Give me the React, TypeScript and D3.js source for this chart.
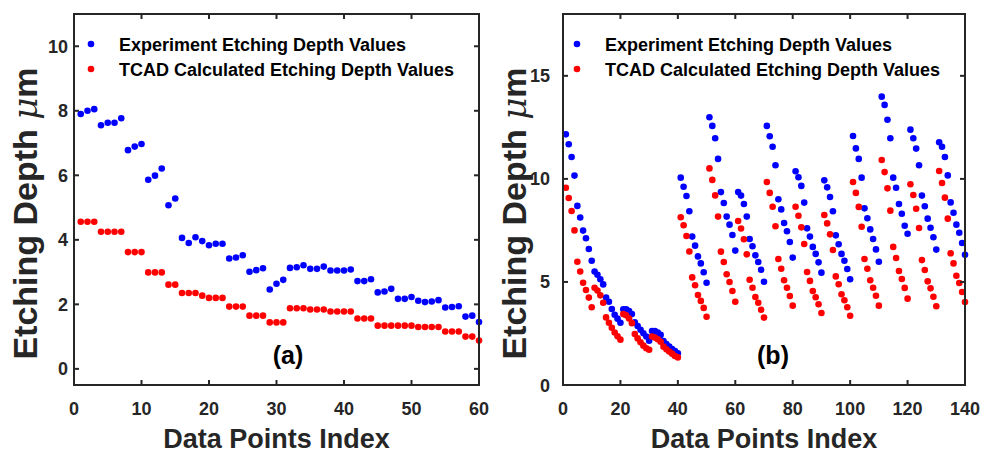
import React from "react";
import * as d3 from "d3";

// ---------- DATA ----------
const indexA = d3.range(1, 61);
const experimentA = [
  7.9, 8.0, 8.05, 7.55, 7.63, 7.63, 7.77, 6.78, 6.89, 6.97,
  5.86, 5.99, 6.21, 5.07, 5.28, 4.06, 3.9, 4.08, 3.96, 3.83,
  3.88, 3.88, 3.42, 3.45, 3.52, 3.01, 3.06, 3.12, 2.46, 2.64,
  2.76, 3.13, 3.15, 3.21, 3.1, 3.1, 3.17, 3.05, 3.05, 3.05,
  3.08, 2.72, 2.72, 2.78, 2.37, 2.4, 2.48, 2.17, 2.17, 2.23,
  2.11, 2.07, 2.09, 2.13, 1.9, 1.92, 1.94, 1.62, 1.65, 1.45,
];
const tcadA = [
  4.56, 4.56, 4.56, 4.25, 4.25, 4.25, 4.25, 3.62, 3.62, 3.62,
  2.99, 2.99, 2.99, 2.61, 2.61, 2.35, 2.35, 2.35, 2.27, 2.2,
  2.2, 2.2, 1.93, 1.93, 1.93, 1.65, 1.65, 1.65, 1.44, 1.44,
  1.44, 1.88, 1.88, 1.88, 1.84, 1.84, 1.84, 1.78, 1.78, 1.78,
  1.78, 1.56, 1.56, 1.56, 1.34, 1.34, 1.34, 1.34, 1.34, 1.34,
  1.3, 1.3, 1.3, 1.3, 1.16, 1.16, 1.16, 1.0, 1.0, 0.88,
];

const indexB = d3.range(1, 141);
const experimentB = [
  12.16, 11.68, 11.06, 10.16, 8.69, 8.13, 7.49, 7.12, 6.6, 6.03,
  5.51, 5.35, 5.13, 4.88, 4.24, 4.04, 3.69, 3.41, 3.22, 3.02,
  3.67, 3.67, 3.59, 3.44, 3.04, 2.86, 2.68, 2.51, 2.35, 2.15,
  2.62, 2.62, 2.54, 2.43, 2.13, 1.99, 1.86, 1.75, 1.65, 1.54,
  10.06, 9.62, 9.17, 8.43, 7.2, 6.76, 6.24, 5.9, 5.47, 4.96,
  12.99, 12.57, 11.97, 10.97, 9.36, 8.83, 8.17, 7.78, 7.28, 6.52,
  9.36, 9.19, 8.78, 8.17, 7.08, 6.73, 6.29, 5.97, 5.59, 5.01,
  12.57, 12.07, 11.56, 10.66, 9.01, 8.52, 7.86, 7.46, 6.94, 6.18,
  10.37, 10.08, 9.66, 8.85, 7.6, 7.2, 6.7, 6.36, 5.95, 5.45,
  9.93, 9.59, 9.12, 8.43, 7.26, 6.83, 6.36, 6.03, 5.63, 5.13,
  12.08, 11.48, 10.97, 10.06, 8.57, 8.09, 7.55, 7.08, 6.58, 5.98,
  13.99, 13.59, 12.87, 11.97, 10.06, 9.57, 8.78, 8.31, 7.73, 7.34,
  12.39, 11.97, 11.47, 10.66, 9.19, 8.67, 8.07, 7.63, 7.17, 6.57,
  11.78, 11.56, 11.06, 10.17, 8.86, 8.36, 7.78, 7.39, 6.89, 6.32,
];
const tcadB = [
  9.57, 9.07, 8.44, 7.5, 5.98, 5.51, 4.96, 4.61, 4.24, 3.77,
  4.72, 4.58, 4.35, 3.99, 3.28, 3.02, 2.78, 2.55, 2.36, 2.2,
  3.44, 3.38, 3.23, 3.0, 2.47, 2.26, 2.07, 1.91, 1.78, 1.71,
  2.35, 2.3, 2.22, 2.1, 1.86, 1.73, 1.62, 1.52, 1.41, 1.34,
  8.14, 7.75, 7.23, 6.48, 5.22, 4.84, 4.37, 4.08, 3.74, 3.31,
  10.51, 9.95, 9.2, 8.17, 6.47, 5.97, 5.37, 5.0, 4.56, 4.04,
  7.96, 7.59, 7.07, 6.34, 5.11, 4.72, 4.27, 3.99, 3.65, 3.27,
  9.85, 9.32, 8.65, 7.7, 6.11, 5.64, 5.08, 4.72, 4.32, 3.85,
  8.65, 8.21, 7.65, 6.84, 5.48, 5.05, 4.56, 4.26, 3.92, 3.49,
  8.25, 7.84, 7.31, 6.55, 5.27, 4.89, 4.4, 4.11, 3.77, 3.36,
  9.85, 9.32, 8.64, 7.68, 6.11, 5.64, 5.08, 4.72, 4.33, 3.85,
  10.92, 10.33, 9.54, 8.46, 6.7, 6.16, 5.53, 5.14, 4.71, 4.19,
  9.74, 9.22, 8.55, 7.62, 6.06, 5.58, 5.03, 4.69, 4.28, 3.82,
  10.38, 9.8, 9.09, 8.07, 6.39, 5.9, 5.3, 4.95, 4.51, 4.03,
];

const xTicksA = [0, 10, 20, 30, 40, 50, 60];
const yTicksA = [0, 2, 4, 6, 8, 10];
const xTicksB = [0, 20, 40, 60, 80, 100, 120, 140];
const yTicksB = [0, 5, 10, 15];

const seriesNames = [
  "Experiment Etching Depth Values",
  "TCAD Calculated Etching Depth Values",
];
const seriesColors = ["#0000ff", "#ff0000"];

// ---------- STYLE ----------
const FONT = "'Liberation Sans', Arial, Helvetica, sans-serif";
const AXIS = "#262626";

type PanelProps = {
  xs: number[];
  exp: number[];
  tcad: number[];
  xDomain: [number, number];
  yDomain: [number, number];
  xRange: [number, number];
  yRange: [number, number];
  xTicks: number[];
  yTicks: number[];
  yLabelEnd: number;
  yTitleX: number;
  legendX: number;
  label: string;
  labelX: number;
};

function Panel(p: PanelProps) {
  const x = d3.scaleLinear().domain(p.xDomain).range(p.xRange);
  const y = d3.scaleLinear().domain(p.yDomain).range(p.yRange);
  const [x0, x1] = p.xRange;
  const [yb, yt] = p.yRange;
  const tl = 5;
  const r = 3.3;
  return (
    <g fontFamily={FONT} fontWeight="bold">
      {/* points */}
      {p.xs.map((xi, i) => (
        <circle key={"e" + i} cx={x(xi)} cy={y(p.exp[i])} r={r} fill={seriesColors[0]} />
      ))}
      {p.xs.map((xi, i) => (
        <circle key={"t" + i} cx={x(xi)} cy={y(p.tcad[i])} r={r} fill={seriesColors[1]} />
      ))}
      {/* box */}
      <rect x={x0} y={yt} width={x1 - x0} height={yb - yt} fill="none" stroke={AXIS} strokeWidth={2} />
      {/* ticks */}
      {p.xTicks.map((t) => (
        <g key={"xt" + t}>
          <line x1={x(t)} x2={x(t)} y1={yb} y2={yb - tl} stroke={AXIS} strokeWidth={2} />
          <line x1={x(t)} x2={x(t)} y1={yt} y2={yt + tl} stroke={AXIS} strokeWidth={2} />
          <text x={x(t)} y={yb + 30} textAnchor="middle" fontSize={18} fill={AXIS}>
            {t}
          </text>
        </g>
      ))}
      {p.yTicks.map((t) => (
        <g key={"yt" + t}>
          <line x1={x0} x2={x0 + tl} y1={y(t)} y2={y(t)} stroke={AXIS} strokeWidth={2} />
          <line x1={x1} x2={x1 - tl} y1={y(t)} y2={y(t)} stroke={AXIS} strokeWidth={2} />
          <text x={p.yLabelEnd} y={y(t) + 6.5} textAnchor="end" fontSize={18} fill={AXIS}>
            {t}
          </text>
        </g>
      ))}
      {/* axis titles */}
      <text x={(x0 + x1) / 2} y={448} textAnchor="middle" fontSize={27} fill={AXIS}>
        Data Points Index
      </text>
      <text
        transform={`translate(${p.yTitleX},213.5) rotate(-90)`}
        textAnchor="middle"
        fontSize={34}
        fill={AXIS}
      >
        Etching Depth <tspan fontStyle="italic" fontFamily="'DejaVu Serif', serif" fontWeight="normal">μ</tspan>m
      </text>
      {/* legend */}
      {seriesNames.map((s, i) => (
        <g key={s}>
          <circle cx={p.legendX} cy={44 + i * 25} r={r} fill={seriesColors[i]} />
          <text x={p.legendX + 28} y={50.5 + i * 25} fontSize={18} fill="#000">
            {s}
          </text>
        </g>
      ))}
      <text x={p.labelX} y={364} textAnchor="middle" fontSize={25} fill="#000">
        {p.label}
      </text>
    </g>
  );
}

export default function App() {
  return (
    <svg
      width={996}
      height={453}
      viewBox="0 0 996 453"
      style={{ position: "absolute", left: 0, top: 0, background: "#fff" }}
    >
      <rect width={996} height={453} fill="#fff" />
      <Panel
        xs={indexA}
        exp={experimentA}
        tcad={tcadA}
        xDomain={[0, 60]}
        yDomain={[-0.5, 11]}
        xRange={[74, 479]}
        yRange={[385, 14]}
        xTicks={xTicksA}
        yTicks={yTicksA}
        yLabelEnd={68}
        yTitleX={37}
        legendX={91}
        label="(a)"
        labelX={288}
      />
      <Panel
        xs={indexB}
        exp={experimentB}
        tcad={tcadB}
        xDomain={[0, 140]}
        yDomain={[0, 18]}
        xRange={[563, 965]}
        yRange={[385, 14]}
        xTicks={xTicksB}
        yTicks={yTicksB}
        yLabelEnd={550}
        yTitleX={526}
        legendX={577}
        label="(b)"
        labelX={773}
      />
    </svg>
  );
}
